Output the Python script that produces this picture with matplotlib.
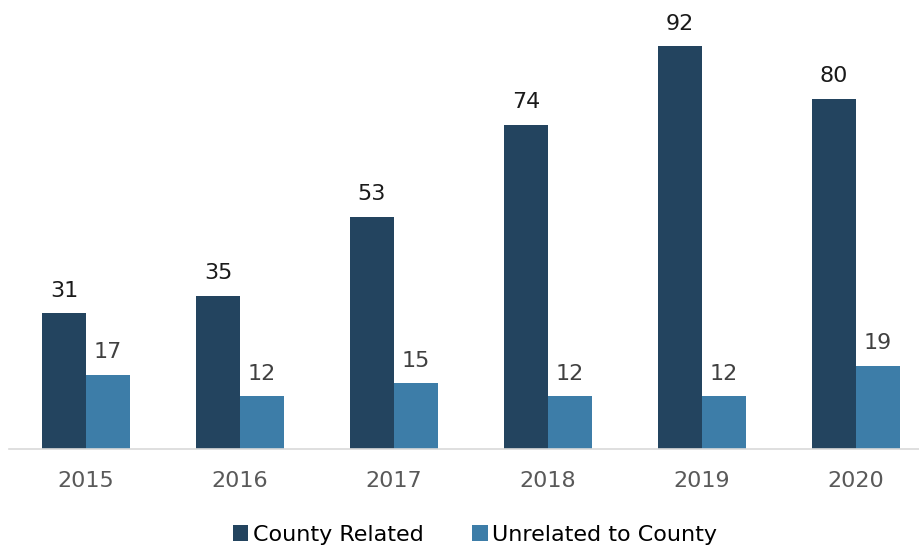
import matplotlib.pyplot as plt
import numpy as np

years = ['2015', '2016', '2017', '2018', '2019', '2020']
county_related = [31, 35, 53, 74, 92, 80]
unrelated = [17, 12, 15, 12, 12, 19]

dark = '#23445f'
light = '#3d7da8'

fig = plt.figure(figsize=(9.19, 5.5), dpi=100)
ax = fig.add_axes([9 / 919, 1 - 449 / 550, 1 - 9 / 919, 438 / 550])

x = np.arange(len(years))
w = 0.286
b1 = ax.bar(x - w / 2, county_related, w, color=dark, label='County Related')
b2 = ax.bar(x + w / 2, unrelated, w, color=light, label='Unrelated to County')

for rect, v in zip(b1, county_related):
    ax.annotate(str(v), (rect.get_x() + rect.get_width() / 2, v), xytext=(0, 9),
                textcoords='offset points', ha='center', va='bottom',
                fontsize=16, color='#1a1a1a')
for rect, v in zip(b2, unrelated):
    ax.annotate(str(v), (rect.get_x() + rect.get_width() / 2, v), xytext=(0, 9),
                textcoords='offset points', ha='center', va='bottom',
                fontsize=16, color='#404040')

ax.set_xlim(-0.5, len(years) - 0.59)
ax.set_ylim(0, 100)
ax.set_xticks(x)
ax.set_xticklabels(years, fontsize=16, color='#595959')
ax.tick_params(axis='x', length=0, pad=16)
ax.set_yticks([])
for s in ['top', 'right', 'left']:
    ax.spines[s].set_visible(False)
ax.spines['bottom'].set_color('#d9d9d9')
ax.spines['bottom'].set_linewidth(1.2)

fig.legend(loc='center', bbox_to_anchor=(475 / 919, 1 - 535 / 550), ncol=2,
           frameon=False, fontsize=16, handlelength=0.7, handleheight=0.7,
           handletextpad=0.2, columnspacing=2.2)

fig.savefig('out.png', dpi=100)
